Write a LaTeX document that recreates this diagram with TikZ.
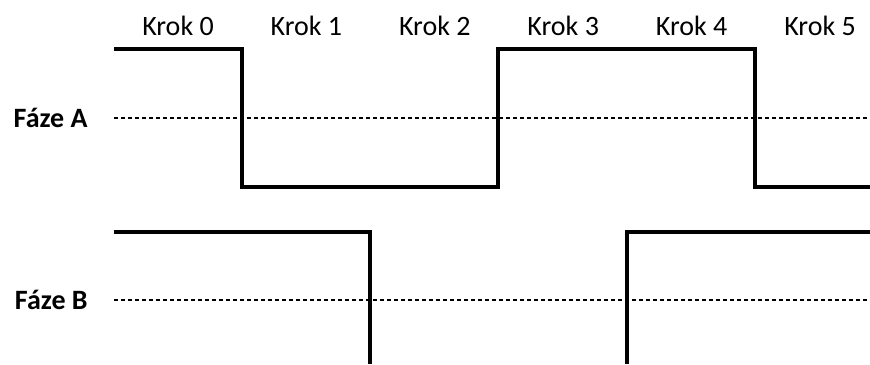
\documentclass[tikz,border=0pt]{standalone}
\usepackage{fontspec}
\setmainfont{Carlito}
\tikzset{
  signal/.style = {line width = 1.6pt},
  middle/.style = {line width = 1.2pt, dash pattern = on 2pt off 1.5pt},
  krok/.style = {anchor = base, inner sep = 0pt, font = \fontsize{14}{17}\selectfont},
  faze/.style = {anchor = base east, inner sep = 0pt, font = \fontsize{14}{17}\selectfont\bfseries}
}
\begin{document}
\begin{tikzpicture}[x = 0.5pt, y = -0.5pt]
\useasboundingbox (0,0) rectangle (870,364);
% step labels across the top
\foreach \k in {0,...,5}
  \draw (178+128.4*\k, 35) node[krok] (krok\k) {Krok \k};
\draw (88,127) node[faze] (fazeA) {Fáze A};
\draw (88,309) node[faze] (fazeB) {Fáze B};
% dotted middle lines
\coordinate (a0) at (114,118); \coordinate (a1) at (870,118);
\coordinate (b0) at (114,300); \coordinate (b1) at (870,300);
\draw[middle] (a0) -- (a1);
\draw[middle] (b0) -- (b1);
% phase A
\draw[signal] (114,49) -- (242,49) -- (242,187) -- (498,187) -- (498,49)
  -- (755,49) -- (755,187) -- (870,187);
% phase B
\draw[signal] (114,232) -- (370,232) -- (370,364);
\draw[signal] (627,364) -- (627,232) -- (870,232);
\end{tikzpicture}
\end{document}
